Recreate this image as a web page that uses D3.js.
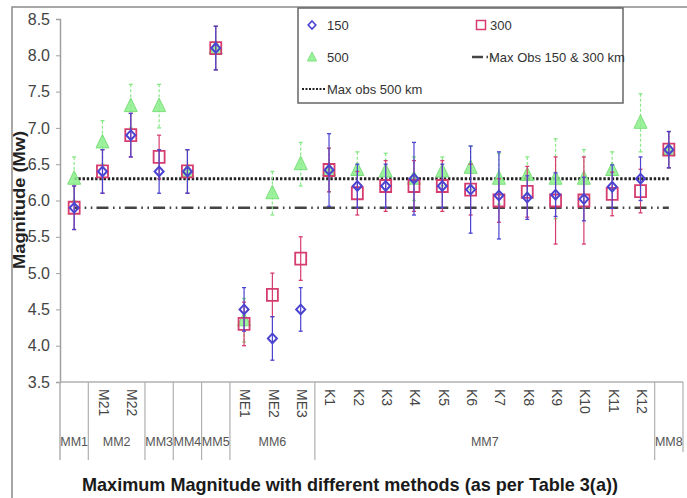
<!DOCTYPE html>
<html>
<head>
<meta charset="utf-8">
<script src="https://cdn.jsdelivr.net/npm/d3@7"></script>
<style>
  body { margin: 0; background: #fff; }
  svg text { font-family: "Liberation Sans", Arial, sans-serif; }
</style>
</head>
<body>
<div id="chart"></div>
<script>
// categories along the x axis (inner label, "" for single-method groups)
const categories = ["MM1","M21","M22","MM3","MM4","MM5","ME1","ME2","ME3",
    "K1","K2","K3","K4","K5","K6","K7","K8","K9","K10","K11","K12","MM8"];
const innerLabels = ["","M21","M22","","","","ME1","ME2","ME3",
    "K1","K2","K3","K4","K5","K6","K7","K8","K9","K10","K11","K12",""];
const groupNames = ["MM1","MM2","MM3","MM4","MM5","MM6","MM7","MM8"];
const groupSizes = [1, 2, 1, 1, 1, 3, 12, 1];

const values150 = [5.9,6.4,6.9,6.4,6.4,8.1,4.5,4.1,4.5,6.42,6.2,6.2,6.3,6.2,6.15,6.07,6.04,6.08,6.02,6.19,6.3,6.7];
const err150    = [0.3,0.3,0.3,0.3,0.3,0.3,0.3,0.3,0.3,0.5,0.3,0.3,0.5,0.3,0.6,0.6,0.3,0.3,0.3,0.3,0.3,0.25];
const values300 = [5.9,6.4,6.9,6.6,6.4,8.1,4.3,4.7,5.2,6.42,6.1,6.2,6.2,6.2,6.15,6.0,6.12,6.0,6.0,6.09,6.13,6.7];
const err300    = [0.3,0.3,0.3,0.3,0.3,0.3,0.3,0.3,0.3,0.3,0.3,0.35,0.35,0.35,0.35,0.3,0.35,0.6,0.6,0.3,0.3,0.25];
const values500 = [6.3,6.8,7.3,7.3,6.4,8.1,4.35,6.1,6.5,6.42,6.42,6.4,6.3,6.4,6.45,6.3,6.35,6.3,6.3,6.42,7.07,6.7];
const err500    = [0.3,0.3,0.3,0.3,0.3,0.3,0.3,0.3,0.3,0.3,0.25,0.25,0.3,0.2,0.3,0.35,0.25,0.55,0.4,0.25,0.4,0.25];

const maxObs150300 = 5.9;
const maxObs500 = 6.3;
const yTicks = [3.5,4.0,4.5,5.0,5.5,6.0,6.5,7.0,7.5,8.0,8.5];

const width = 687, height = 498;
const plot = { left: 60, right: 683, top: 19, bottom: 382 };

const svg = d3.select('#chart').append('svg')
    .attr('width', width)
    .attr('height', height);

// outer chart border
svg.append('rect')
    .attr('x', 12).attr('y', 7)
    .attr('width', 700).attr('height', 520)
    .attr('fill', 'none')
    .attr('stroke', '#8a8a8a')
    .attr('stroke-width', 1.5);

let x = d3.scaleBand()
    .domain(categories)
    .range([plot.left, plot.right])
    .padding(0);

let y = d3.scaleLinear()
    .domain([3.5, 8.5])
    .range([plot.bottom, plot.top]);

const cx = d => x(d) + x.bandwidth() / 2;

// y axis
let yAxis = d3.axisLeft(y)
    .tickValues(yTicks)
    .tickFormat(d3.format('.1f'))
    .tickSize(4);

let yg = svg.append('g')
    .attr('transform', 'translate(' + plot.left + ',0)')
    .call(yAxis);
yg.select('.domain').attr('stroke', '#a0a0a0').attr('stroke-width', 1.5);
yg.selectAll('.tick line').attr('stroke', '#a0a0a0');
yg.selectAll('.tick text')
    .attr('x', -10)
    .attr('fill', '#444')
    .style('font-size', '16px');

svg.append('text')
    .attr('transform', 'translate(25,200) rotate(-90)')
    .attr('text-anchor', 'middle')
    .attr('font-weight', 'bold')
    .attr('fill', '#222')
    .attr('textLength', 138)
    .attr('lengthAdjust', 'spacingAndGlyphs')
    .style('font-size', '16px')
    .text('Magnitude (Mw)');

// category axis: base line, group separators, labels
const axisCol = '#b0b0b0';
svg.append('line')
    .attr('x1', plot.left).attr('x2', plot.right)
    .attr('y1', plot.bottom).attr('y2', plot.bottom)
    .attr('stroke', axisCol).attr('stroke-width', 1.5);

let groupStart = [];
let acc = 0;
groupSizes.forEach(n => { groupStart.push(acc); acc += n; });

svg.append('line')
    .attr('x1', plot.left).attr('x2', plot.left)
    .attr('y1', plot.bottom).attr('y2', 460)
    .attr('stroke', axisCol).attr('stroke-width', 1.5);

svg.selectAll('.sep')
    .data(groupStart.map((s, i) => s + groupSizes[i]))
    .enter()
    .append('line')
    .attr('x1', d => d < categories.length ? x(categories[d]) : plot.right)
    .attr('x2', d => d < categories.length ? x(categories[d]) : plot.right)
    .attr('y1', plot.bottom)
    .attr('y2', (d, i) => i === groupSizes.length - 1 ? 452 : 460)
    .attr('stroke', axisCol).attr('stroke-width', 1.2);

svg.selectAll('.inner')
    .data(categories)
    .enter()
    .append('text')
    .attr('transform', d => 'translate(' + cx(d) + ',389) rotate(90)')
    .attr('dominant-baseline', 'middle')
    .attr('fill', '#444')
    .style('font-size', '14px')
    .text((d, i) => innerLabels[i]);

svg.selectAll('.glabel')
    .data(groupNames)
    .enter()
    .append('text')
    .attr('x', (d, i) => {
        let a = x(categories[groupStart[i]]);
        return a + groupSizes[i] * x.step() / 2;
    })
    .attr('y', 446)
    .attr('text-anchor', 'middle')
    .attr('fill', '#555')
    .style('font-size', '12.5px')
    .text(d => d);

svg.append('text')
    .attr('x', 350)
    .attr('y', 491)
    .attr('text-anchor', 'middle')
    .attr('font-weight', 'bold')
    .attr('fill', '#1a1a1a')
    .attr('textLength', 536)
    .attr('lengthAdjust', 'spacingAndGlyphs')
    .style('font-size', '19px')
    .text('Maximum Magnitude with different methods (as per Table 3(a))');

// reference lines
const first = categories[0], last = categories[categories.length - 1];
const s = x.step();

svg.append('line')
    .attr('x1', cx(first)).attr('x2', cx(last))
    .attr('y1', y(maxObs150300)).attr('y2', y(maxObs150300))
    .attr('stroke', '#444')
    .attr('stroke-width', 2.5)
    .attr('stroke-dasharray', [6, 4.5, 1.6, 4.5, 1.6, s - 24.2, 6, 0].join(','));

svg.append('line')
    .attr('x1', cx(first)).attr('x2', cx(last))
    .attr('y1', y(maxObs500)).attr('y2', y(maxObs500))
    .attr('stroke', '#222')
    .attr('stroke-width', 3)
    .attr('stroke-dasharray', '2.4,1.8');

// series
const series = [
    { vals: values500, errs: err500, color: '#86e886', dash: '3,2', shape: 'tri' },
    { vals: values300, errs: err300, color: '#d63c6e', dash: null, shape: 'sq' },
    { vals: values150, errs: err150, color: '#4a42d0', dash: null, shape: 'dia' }
];

series.forEach(sr => {
    let g = svg.append('g');
    g.selectAll('.eb')
        .data(categories)
        .enter()
        .append('line')
        .attr('x1', d => cx(d)).attr('x2', d => cx(d))
        .attr('y1', (d, i) => y(sr.vals[i] + sr.errs[i]))
        .attr('y2', (d, i) => y(sr.vals[i] - sr.errs[i]))
        .attr('stroke', sr.color)
        .attr('stroke-width', 1.2)
        .attr('stroke-dasharray', sr.dash);
    [1, -1].forEach(sign => {
        g.selectAll('.cap' + sign)
            .data(categories)
            .enter()
            .append('line')
            .attr('x1', d => cx(d) - 2).attr('x2', d => cx(d) + 2)
            .attr('y1', (d, i) => y(sr.vals[i] + sign * sr.errs[i]))
            .attr('y2', (d, i) => y(sr.vals[i] + sign * sr.errs[i]))
            .attr('stroke', sr.color)
            .attr('stroke-width', 1.3);
    });
    let m = g.selectAll('.mk')
        .data(categories)
        .enter()
        .append('path')
        .attr('transform', (d, i) => 'translate(' + cx(d) + ',' + y(sr.vals[i]) + ')');
    if (sr.shape === 'tri') {
        m.attr('d', 'M0,-8L6.5,5.5L-6.5,5.5Z')
         .attr('fill', '#8cee8c').attr('fill-opacity', 0.85)
         .attr('stroke', '#7ae07a').attr('stroke-width', 1);
    } else if (sr.shape === 'sq') {
        m.attr('d', 'M-5.5,-6H5.5V6H-5.5Z')
         .attr('fill', 'none')
         .attr('stroke', sr.color).attr('stroke-width', 1.8);
    } else {
        m.attr('d', 'M0,-4.8L4.5,0L0,4.8L-4.5,0Z')
         .attr('fill', 'none')
         .attr('stroke', sr.color).attr('stroke-width', 2);
    }
});

// legend
let lg = svg.append('g');
lg.append('rect')
    .attr('x', 298).attr('y', 8)
    .attr('width', 325).attr('height', 95)
    .attr('fill', '#fff')
    .attr('stroke', '#666')
    .attr('stroke-width', 1.5);

lg.append('path')
    .attr('transform', 'translate(312,25)')
    .attr('d', 'M0,-4L3.8,0L0,4L-3.8,0Z')
    .attr('fill', 'none').attr('stroke', '#4a42d0').attr('stroke-width', 1.6);
lg.append('path')
    .attr('transform', 'translate(481,25)')
    .attr('d', 'M-4.5,-4.5H4.5V4.5H-4.5Z')
    .attr('fill', 'none').attr('stroke', '#d63c6e').attr('stroke-width', 1.5);
lg.append('path')
    .attr('transform', 'translate(312,57)')
    .attr('d', 'M0,-5L4.5,4L-4.5,4Z')
    .attr('fill', '#9cf09c').attr('stroke', '#7be27b');
lg.append('line')
    .attr('x1', 472).attr('x2', 495).attr('y1', 57).attr('y2', 57)
    .attr('stroke', '#444').attr('stroke-width', 2.5)
    .attr('stroke-dasharray', '11,3.5,1.5,3.5,1.5,10');
lg.append('line')
    .attr('x1', 302).attr('x2', 326).attr('y1', 89).attr('y2', 89)
    .attr('stroke', '#222').attr('stroke-width', 2)
    .attr('stroke-dasharray', '2,1.5');

const legendTexts = [
    { t: '150', x: 327, y: 30 },
    { t: '300', x: 490, y: 30 },
    { t: '500', x: 327, y: 62 },
    { t: 'Max Obs 150 & 300 km', x: 489, y: 62 },
    { t: 'Max obs 500 km', x: 327, y: 94 }
];
lg.selectAll('.lt')
    .data(legendTexts)
    .enter()
    .append('text')
    .attr('x', d => d.x).attr('y', d => d.y)
    .attr('fill', '#333')
    .style('font-size', '13px')
    .text(d => d.t);
</script>
</body>
</html>
